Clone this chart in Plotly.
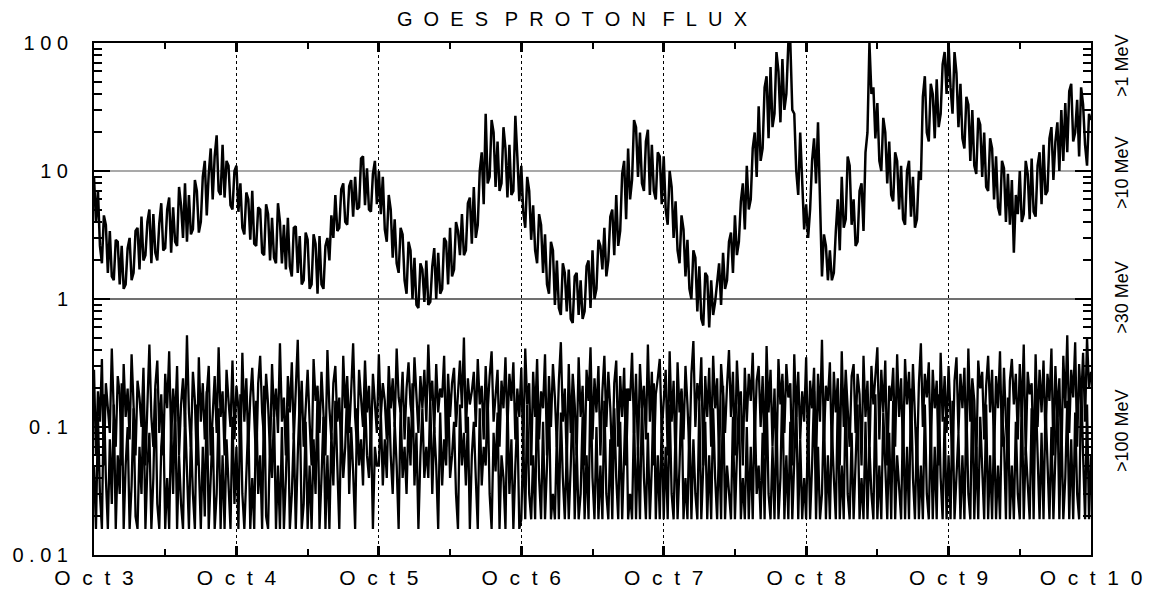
import pandas as pd
import plotly.graph_objects as go

# ---- data (20-minute samples, Oct 3 00:00 -> Oct 10 00:00) ----
start = "2003-10-03 00:00"
n_points = 505

flux_high = [
    # Oct 3
    9, 4, 7, 2.6, 1.9, 4.5, 3.8, 1.6, 3.4, 1.5, 1.4, 2.9,
    2.8, 1.3, 2.6, 1.2, 1.3, 2.5, 3.0, 1.4, 1.6, 3.4, 3.6, 1.7,
    4.4, 2.0, 2.2, 4.0, 5.0, 1.9, 4.6, 2.3, 2.0, 3.9, 5.6, 2.4,
    2.5, 5.0, 6.2, 2.3, 5.2, 2.8, 2.6, 7.5, 5.4, 3.0, 8, 2.8,
    6.5, 3.2, 3.5, 8.5, 7.0, 3.3, 4.0, 9, 12, 4.5, 9.5, 15,
    6, 13, 19, 7, 6.5, 16, 6.2, 12, 11, 5.4, 5.0, 10,
    # Oct 4
    11, 4.8, 8, 3.6, 3.2, 6.8, 6.0, 2.9, 7, 2.7, 2.6, 5.2,
    5.0, 2.3, 2.2, 5.5, 4.6, 2.0, 4.3, 2.1, 1.9, 5.6, 4.0, 1.9,
    3.8, 1.7, 4.3, 1.8, 1.5, 3.6, 3.7, 1.6, 3.1, 1.3, 1.4, 3.3,
    2.9, 1.2, 1.3, 3.2, 2.7, 1.1, 3.1, 1.3, 1.2, 2.6, 3.0, 2.0,
    4.5, 3.0, 6.5, 3.4, 3.6, 7.2, 8.0, 4.0, 3.8, 7.6, 8.5, 4.4,
    9, 5.0, 5.2, 12.5, 13, 5.4, 10.5, 5.0, 4.8, 9.5, 12, 5.5,
    # Oct 5
    10, 4.6, 9, 3.5, 2.8, 6.5, 5.0, 2.1, 4.2, 1.9, 1.6, 3.6,
    3.2, 1.4, 1.1, 2.8, 2.4, 1.0, 2.1, 0.9, 0.85, 1.9, 1.7, 0.95,
    2.0, 0.9, 0.95, 1.8, 2.5, 1.0, 2.3, 1.1, 1.2, 3.0, 2.8, 1.3,
    3.6, 1.5, 1.7, 4.0, 3.4, 2.2, 4.6, 2.2, 2.4, 5.6, 6.2, 2.7,
    7.5, 3.0, 3.8, 10, 14, 5.5, 28, 8, 9, 25, 20, 7.5,
    17, 7, 8, 22, 15, 6.2, 16, 6.5, 7, 27, 13, 5.8,
    # Oct 6
    11, 4.8, 3.6, 9, 7, 2.9, 5.4, 2.4, 1.9, 4.6, 3.8, 1.6,
    3.2, 1.3, 1.1, 2.8, 2.4, 0.9, 2.0, 0.85, 0.75, 1.9, 1.6, 0.8,
    1.7, 0.7, 0.65, 1.5, 1.6, 0.75, 1.4, 0.7, 0.8, 1.8, 2.0, 0.85,
    2.4, 1.0, 1.2, 2.9, 2.6, 1.7, 3.6, 1.5, 2.0, 4.4, 5.0, 2.2,
    6.5, 2.6, 3.4, 9.5, 12, 4.2, 15, 6, 8.5, 25, 22, 9,
    20, 8, 7, 17, 21, 6.5, 16, 7, 6, 14, 13, 5.5,
    # Oct 7
    13, 5.0, 3.8, 10, 7.5, 3.0, 5.8, 2.4, 1.9, 4.5, 3.5, 1.5,
    2.9, 1.2, 1.0, 2.4, 2.1, 0.8, 1.8, 0.7, 0.62, 1.6, 1.5, 0.6,
    1.4, 0.75, 0.95, 1.3, 1.9, 0.9, 2.3, 1.2, 1.4, 2.8, 3.3, 1.6,
    4.5, 2.2, 2.8, 5.8, 8, 3.5, 11, 5, 6, 15, 20, 9,
    32, 12, 15, 45, 55, 18, 65, 22, 28, 85, 60, 24,
    75, 30, 40, 100, 100, 30, 28, 10, 6.5, 20, 8, 3.5,
    # Oct 8
    5.5, 3.0, 5, 12, 18, 8, 24, 5, 1.5, 3.2, 2.6, 1.4,
    2.4, 1.4, 1.6, 3.4, 6, 2.4, 9, 3.6, 4.2, 13, 11, 3.8,
    6, 2.6, 2.8, 7, 8, 3.4, 14, 20, 100, 40, 45, 18,
    34, 12, 10, 26, 20, 8, 17, 6.5, 5.8, 14, 12, 5,
    11, 4.2, 3.8, 10, 12, 4.4, 9, 3.6, 4.2, 10, 8.5, 38,
    55, 20, 17, 48, 40, 18, 52, 22, 28, 68, 85, 40,
    # Oct 9
    100, 45, 28, 85, 58, 22, 48, 18, 15, 38, 33, 12,
    30, 11, 9.5, 26, 23, 9, 20, 7.5, 7, 18, 15, 6,
    13, 5.2, 4.5, 12, 10.5, 4.0, 9.5, 3.8, 8.5, 2.3, 6.5, 4.6,
    10, 4.0, 4.6, 12, 9.5, 4.2, 12.5, 4.8, 4.4, 11, 14, 5.5,
    16, 6.5, 7, 18, 22, 8.5, 17, 24, 10, 30, 12, 34,
    14, 42, 48, 17, 20, 36, 13, 45, 33, 16, 11, 28,
    25,
]

flux_low_a = [
    .28, .06, .19, .11, .34, .05, .22, .15, .09, .41, .13, .07, .25, .18, .05, .31, .12, .20, .08, .37, .14, .06, .23, .17,
    .10, .29, .05, .16, .44, .12, .07, .21, .33, .09, .18, .06, .26, .14, .39, .08, .20, .11, .30, .06, .15, .24, .10, .52,
    .13, .07, .27, .16, .05, .35, .11, .22, .08, .18, .30, .06, .14, .25, .09, .42, .12, .19, .06, .28, .16, .10, .33, .08,
    .21, .14, .06, .38, .11, .24, .07, .17, .29, .10, .05, .22, .36, .13, .08, .26, .15, .06, .31, .12, .20, .09, .45, .11,
    .17, .06, .25, .13, .32, .08, .19, .48, .10, .23, .07, .15, .28, .11, .05, .34, .16, .21, .09, .27, .13, .06, .40, .14,
    .08, .22, .30, .11, .17, .06, .36, .14, .25, .09, .19, .45, .12, .07, .28, .16, .10, .33, .13, .21, .07, .26, .15, .09,
    .37, .12, .22, .16, .08, .30, .14, .24, .10, .41, .17, .13, .27, .08, .20, .32, .15, .11, .35, .19, .09, .25, .14, .28,
    .11, .44, .16, .23, .09, .31, .13, .20, .17, .36, .07, .26, .12, .22, .29, .10, .18, .33, .14, .50, .09, .24, .15, .19,
    .27, .10, .34, .15, .21, .08, .30, .13, .25, .39, .11, .18, .28, .07, .23, .14, .35, .10, .26, .16, .32, .08, .20, .12,
    .29, .06, .41, .15, .22, .05, .27, .12, .34, .08, .19, .14, .37, .06, .25, .10, .31, .17, .07, .23, .46, .11, .20, .05,
    .31, .09, .26, .15, .06, .35, .12, .21, .05, .28, .16, .42, .08, .24, .13, .30, .06, .19, .36, .10, .27, .14, .05, .22,
    .33, .07, .25, .12, .29, .05, .20, .16, .38, .09, .26, .06, .31, .14, .21, .08, .44, .11, .27, .05, .18, .24, .34, .09,
    .17, .28, .06, .39, .11, .23, .05, .32, .13, .20, .08, .30, .15, .06, .26, .47, .10, .22, .16, .35, .05, .25, .12, .29,
    .07, .36, .14, .24, .05, .31, .18, .09, .21, .40, .12, .27, .06, .33, .15, .19, .05, .29, .11, .26, .16, .38, .08, .23,
    .30, .10, .25, .06, .43, .13, .28, .07, .20, .05, .34, .15, .26, .09, .31, .17, .22, .05, .37, .12, .27, .08, .19, .11,
    .35, .06, .23, .14, .29, .05, .26, .11, .48, .08, .21, .16, .32, .06, .27, .13, .24, .05, .39, .10, .28, .15, .07, .25,
    .31, .09, .26, .18, .05, .36, .12, .23, .06, .30, .15, .25, .42, .08, .28, .13, .33, .05, .21, .16, .29, .07, .37, .12,
    .24, .06, .34, .15, .27, .08, .31, .12, .05, .22, .45, .10, .26, .17, .32, .06, .28, .14, .23, .05, .38, .11, .25, .09,
    .30, .12, .05, .23, .35, .09, .26, .14, .29, .06, .41, .11, .24, .16, .05, .33, .20, .27, .08, .21, .36, .13, .28, .06,
    .25, .14, .39, .07, .29, .11, .05, .23, .34, .15, .26, .08, .31, .12, .44, .06, .27, .18, .22, .05, .37, .10, .28, .13,
    .33, .08, .26, .16, .41, .06, .30, .12, .24, .05, .36, .14, .52, .09, .28, .17, .46, .07, .31, .15, .38, .11, .50, .20,
    .27,
]

flux_low_b = [
    .05, .016, .12, .03, .016, .18, .04, .016, .08, .025, .15, .016, .06, .03, .22, .016, .05, .10, .016, .035, .14, .02, .016, .07,
    .03, .16, .016, .05, .09, .016, .04, .20, .025, .016, .07, .12, .016, .04, .016, .11, .03, .17, .016, .06, .025, .016, .13, .04,
    .016, .09, .03, .016, .15, .05, .016, .07, .02, .19, .016, .04, .10, .016, .03, .14, .016, .06, .016, .08, .035, .016, .12, .025,
    .07, .016, .18, .03, .016, .05, .11, .016, .04, .016, .16, .03, .06, .016, .21, .02, .016, .08, .04, .13, .016, .05, .016, .10,
    .016, .04, .14, .016, .03, .09, .016, .06, .17, .016, .025, .11, .016, .05, .016, .08, .03, .19, .016, .04, .12, .016, .06, .016,
    .09, .035, .16, .05, .016, .12, .04, .07, .20, .03, .10, .045, .016, .14, .05, .08, .035, .18, .06, .04, .11, .016, .07, .05,
    .05, .13, .035, .08, .04, .19, .06, .03, .11, .05, .016, .15, .04, .07, .03, .12, .05, .22, .035, .09, .016, .06, .14, .04,
    .07, .04, .17, .03, .10, .05, .016, .13, .035, .08, .05, .20, .04, .06, .11, .03, .016, .15, .05, .09, .035, .12, .016, .06,
    .11, .04, .016, .14, .035, .07, .05, .18, .03, .016, .09, .045, .13, .016, .06, .04, .016, .16, .03, .08, .016, .05, .12, .016,
    .019, .08, .019, .15, .03, .019, .06, .019, .21, .04, .019, .11, .019, .05, .17, .019, .03, .019, .09, .019, .13, .04, .019, .07,
    .019, .05, .18, .019, .07, .019, .03, .12, .019, .06, .019, .24, .04, .019, .10, .019, .05, .019, .16, .03, .019, .08, .019, .14,
    .04, .019, .11, .019, .06, .20, .019, .03, .019, .13, .019, .07, .019, .17, .04, .019, .09, .019, .05, .22, .019, .06, .019, .12,
    .019, .07, .019, .15, .03, .019, .10, .019, .05, .19, .019, .04, .019, .12, .019, .08, .03, .019, .16, .019, .05, .11, .019, .06,
    .019, .14, .04, .019, .08, .019, .21, .019, .05, .03, .019, .12, .019, .06, .17, .019, .04, .019, .10, .019, .07, .019, .15, .03,
    .05, .019, .09, .019, .18, .03, .019, .07, .019, .13, .019, .04, .23, .019, .06, .019, .11, .019, .05, .16, .019, .08, .019, .04,
    .019, .12, .019, .05, .19, .019, .07, .019, .03, .14, .019, .06, .019, .10, .04, .019, .17, .019, .05, .019, .21, .03, .019, .09,
    .019, .06, .15, .019, .04, .019, .11, .019, .07, .03, .019, .18, .019, .05, .019, .13, .04, .019, .09, .019, .16, .019, .06, .03,
    .019, .13, .019, .07, .019, .20, .04, .019, .10, .019, .05, .019, .15, .03, .019, .11, .019, .07, .019, .18, .04, .019, .12, .019,
    .06, .019, .16, .019, .04, .09, .019, .06, .019, .14, .03, .019, .22, .019, .07, .019, .12, .05, .019, .15, .019, .06, .019, .10,
    .019, .05, .019, .13, .08, .019, .17, .019, .05, .019, .11, .03, .019, .19, .019, .07, .04, .019, .14, .019, .20, .06, .019, .09,
    .019, .15, .05, .019, .10, .019, .06, .18, .019, .12, .019, .04, .16, .019, .08, .019, .13, .03, .019, .24, .06, .019, .15, .019,
    .06,
]

day_ticks = ["2003-10-03", "2003-10-04", "2003-10-05", "2003-10-06",
             "2003-10-07", "2003-10-08", "2003-10-09", "2003-10-10"]
day_labels = ["Oct 3", "Oct 4", "Oct 5", "Oct 6", "Oct 7", "Oct 8", "Oct 9", "Oct 10"]
y_ticks = [0.01, 0.1, 1, 10, 100]
y_labels = ["0.01", "0.1", "1", "10", "100"]
level_labels = [">1 MeV", ">10 MeV", ">30 MeV", ">100 MeV"]
level_pos = [0.957, 0.748, 0.504, 0.244]
title_text = "GOES PROTON FLUX"

NB = "\u00a0"


def letter_spaced(s, gap, word_gap):
    words = s.split(" ")
    return word_gap.join(gap.join(list(w)) for w in words)


t = pd.date_range(start, periods=n_points, freq="20min")

fig = go.Figure()
fig.add_trace(go.Scatter(x=t, y=flux_low_b, mode="lines",
                         line=dict(color="black", width=2.3), showlegend=False))
fig.add_trace(go.Scatter(x=t, y=flux_low_a, mode="lines",
                         line=dict(color="black", width=2.3), showlegend=False))
fig.add_trace(go.Scatter(x=t, y=flux_high, mode="lines",
                         line=dict(color="black", width=2.5), showlegend=False))

fig.add_hline(y=10, line=dict(color="#8c8c8c", width=1.5), layer="below")
fig.add_hline(y=1, line=dict(color="#404040", width=1.5), layer="below")

minor_y = [m * 10 ** e for e in range(-2, 2) for m in range(2, 10)]
minor_x = [pd.Timestamp(d) + pd.Timedelta(hours=12) for d in day_ticks[:-1]]

# the page body adds an 8px offset, so the figure is sized to fit the window
fig.update_layout(
    width=1143, height=585,
    margin=dict(l=86, r=60, t=35, b=38, autoexpand=False),
    paper_bgcolor="white", plot_bgcolor="white",
    font=dict(family="Liberation Sans, Arial, sans-serif", color="black"),
    title=dict(text=letter_spaced(title_text, NB * 2, NB * 3), x=0.4934, xanchor="center",
               y=0.982, yanchor="middle", xref="container", yref="container",
               font=dict(size=20, color="black")),
)

fig.update_xaxes(
    range=[day_ticks[0], day_ticks[-1]], automargin=False,
    tickmode="array", tickvals=day_ticks,
    ticktext=[letter_spaced(s, NB * 2, NB * 2) for s in day_labels],
    ticks="inside", ticklen=9, tickwidth=2.5, tickcolor="black",
    showline=True, linecolor="black", linewidth=2, mirror="ticks",
    showgrid=True, gridcolor="black", gridwidth=1, griddash="dot",
    tickfont=dict(size=21, color="black"), ticklabelstandoff=3,
    minor=dict(tickmode="array", tickvals=minor_x, ticks="inside",
               ticklen=6, tickwidth=2, tickcolor="black", showgrid=False),
    zeroline=False,
)

fig.update_yaxes(
    type="log", range=[-2, 2], automargin=False,
    tickmode="array", tickvals=y_ticks,
    ticktext=[letter_spaced(s, NB, NB) for s in y_labels],
    ticks="inside", ticklen=16, tickwidth=2, tickcolor="black",
    showline=True, linecolor="black", linewidth=2, mirror="ticks",
    showgrid=False, zeroline=False,
    tickfont=dict(size=20, color="black"), ticklabelstandoff=20,
    minor=dict(tickmode="array", tickvals=minor_y, ticks="inside",
               ticklen=8, tickwidth=1.5, tickcolor="black", showgrid=False),
)

for lab, yp in zip(level_labels, level_pos):
    fig.add_annotation(text=lab, xref="paper", yref="paper", x=1.031, y=yp,
                       textangle=-90, showarrow=False, xanchor="center",
                       yanchor="middle", font=dict(size=18, color="black"))

fig.write_html("out.html")
